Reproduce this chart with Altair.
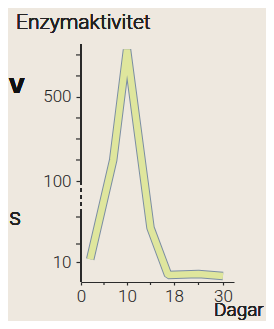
import altair as alt
import pandas as pd

# data
days = [2, 7, 10, 14, 17, 24, 30]
activity = [13, 200, 725, 48, 3.5, 4, 3]

x_labels = [0, 10, 18, 30]
x_minor = [5, 14, 24]
y_labels = [10, 100, 500]
y_minor = [30, 60, 200, 300, 400, 600, 700]

df = pd.DataFrame({"day": days, "activity": activity})
xm = pd.DataFrame({"day": x_minor})
ym = pd.DataFrame({"activity": y_minor})

FONT = "Roboto"
W = 300
TXT = "#222222"
AX = "#2b2b2b"
BG = "#eee8df"
FILL = "#dfe69d"
EDGE = "#7b8ea3"

xscale = alt.Scale(domain=[0, 10, 18, 30, 32.3], range=[0, 46, 93, 142, 153], nice=False, zero=False)
yscale = alt.Scale(domain=[0, 10, 100, 752], range=[238, 218, 137, 0], nice=False, zero=False)

xaxis = alt.Axis(
    values=x_labels, title=None, grid=False, tickSize=3, labelPadding=3,
    labelFontSize=17, labelFont=FONT, labelFontWeight=W, labelColor=TXT,
    domainColor=AX, tickColor=AX, domainWidth=1.2, tickWidth=1.2,
    labelFlush=False, labelOverlap=False,
)
yaxis = alt.Axis(
    values=y_labels, title=None, grid=False, domain=False, tickSize=5, labelPadding=5,
    labelFontSize=17, labelFont=FONT, labelFontWeight=W, labelColor=TXT,
    tickColor=AX, tickWidth=1.2, labelFlush=False, labelOverlap=False,
)

base = alt.Chart(df).encode(
    x=alt.X("day:Q", scale=xscale, axis=xaxis),
    y=alt.Y("activity:Q", scale=yscale, axis=yaxis),
)

outer = base.mark_line(color=EDGE, strokeWidth=8.5, strokeJoin="bevel", strokeCap="butt")
inner = base.mark_line(color=FILL, strokeWidth=6.5, strokeJoin="bevel", strokeCap="butt")

# y axis line with a dashed break
rule_top = alt.Chart(df).mark_rule(color=AX, strokeWidth=1.2).encode(
    x=alt.value(0), y=alt.datum(752), y2=alt.datum(100))
rule_dash = alt.Chart(df).mark_rule(color=AX, strokeWidth=1.2, strokeDash=[4, 3]).encode(
    x=alt.value(0), y=alt.datum(100), y2=alt.datum(65))
rule_low = alt.Chart(df).mark_rule(color=AX, strokeWidth=1.2).encode(
    x=alt.value(0), y=alt.datum(65), y2=alt.datum(0))

# unlabeled ticks
y_minor_ticks = alt.Chart(ym).mark_rule(color=AX, strokeWidth=1.2).encode(
    y=alt.Y("activity:Q"), x=alt.value(-5), x2=alt.value(0))
x_minor_ticks = alt.Chart(xm).mark_rule(color=AX, strokeWidth=1.2).encode(
    x=alt.X("day:Q"), y=alt.value(238), y2=alt.value(241))

title_y = alt.Chart(df).mark_text(
    text="Enzymaktivitet", font=FONT, fontWeight=W, fontSize=21, align="left",
    baseline="alphabetic", color=TXT
).encode(x=alt.value(-65), y=alt.value(-15.5))

title_x = alt.Chart(df).mark_text(
    text="Dagar", font=FONT, fontWeight=W, fontSize=19, align="left",
    baseline="alphabetic", color=TXT
).encode(x=alt.value(133), y=alt.value(271.5))

# fragments of neighbouring text at the left edge
side_v = alt.Chart(df).mark_text(
    text="v", font="Liberation Sans", fontSize=28, fontWeight="bold", align="left",
    baseline="alphabetic", color="#111111"
).encode(x=alt.value(-72), y=alt.value(48.5))

side_s = alt.Chart(df).mark_text(
    text="s", font=FONT, fontWeight=W, fontSize=24, align="left",
    baseline="alphabetic", color=TXT
).encode(x=alt.value(-72), y=alt.value(181))

chart = alt.layer(
    rule_top, rule_dash, rule_low, y_minor_ticks, x_minor_ticks,
    outer, inner, title_y, title_x, side_v, side_s
).properties(
    width=153, height=238,
    autosize=alt.AutoSizeParams(type="none"),
    padding={"left": 73, "top": 36, "right": 32, "bottom": 39},
    background=BG,
).configure_view(stroke=None)

chart.save("out.html", embed_options={"renderer": "svg", "actions": False})
